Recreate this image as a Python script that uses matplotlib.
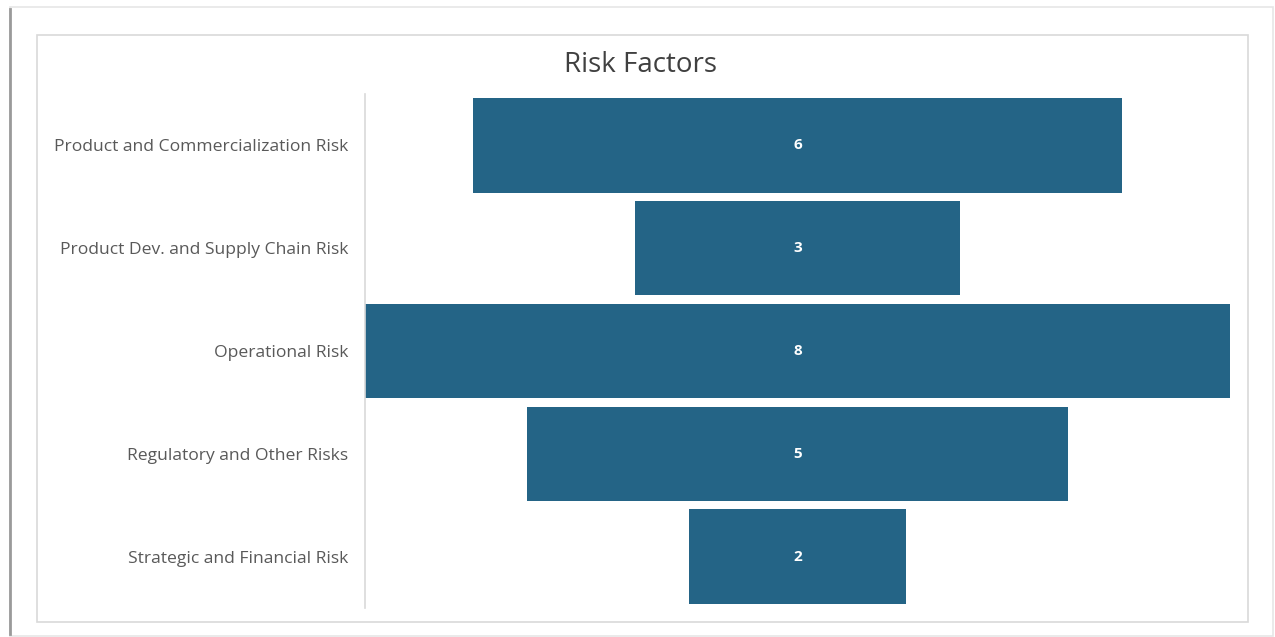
import matplotlib.pyplot as plt
from matplotlib.patches import Rectangle

# Risk categories (top to bottom) and their counts
categories = [
    "Product and Commercialization Risk",
    "Product Dev. and Supply Chain Risk",
    "Operational Risk",
    "Regulatory and Other Risks",
    "Strategic and Financial Risk",
]
counts = [6, 3, 8, 5, 2]

W, H = 1275, 637
fig = plt.figure(figsize=(W / 100, H / 100), dpi=100)
fig.patch.set_facecolor("white")

def px_box(x0, y0, x1, y1):
    # pixel box (top-left origin) -> figure fraction rect
    return [x0 / W, 1 - y1 / H, (x1 - x0) / W, (y1 - y0) / H]

# outer card with a soft shadow on the left edge
fig.add_artist(Rectangle((10 / W, 1 - 636 / H), 1263 / W, 629 / H,
                         transform=fig.transFigure, fill=False,
                         edgecolor="#e6e6e6", linewidth=1.2))
fig.add_artist(plt.Line2D([10 / W, 10 / W], [1 - 634 / H, 1 - 9 / H],
                          transform=fig.transFigure, color="#9a9a9a", linewidth=2))
# chart area border
fig.add_artist(Rectangle((37 / W, 1 - 622 / H), 1211 / W, 587 / H,
                         transform=fig.transFigure, fill=False,
                         edgecolor="#d9d9d9", linewidth=1.2))

ax = fig.add_axes(px_box(365, 94, 1230, 608))
ypos = list(range(len(categories)))
lefts = [-c / 2 for c in counts]
bars = ax.barh(ypos, counts, left=lefts, height=0.92, color="#246486")

for y, c in zip(ypos, counts):
    ax.text(0, y, str(c), ha="center", va="center", color="white",
            fontsize=11, fontweight="bold", family="Open Sans")

ax.set_xlim(-4, 4)
ax.set_ylim(len(categories) - 0.5, -0.5)
ax.set_yticks(ypos)
ax.set_yticklabels(categories, fontsize=12.6, color="#595959", family="Open Sans")
ax.tick_params(axis="y", length=0, pad=12)
ax.set_xticks([])
for side in ["top", "right", "bottom"]:
    ax.spines[side].set_visible(False)
ax.spines["left"].set_color("#d9d9d9")
ax.spines["left"].set_linewidth(1.2)

fig.text(640 / W, 1 - 65 / H, "Risk Factors", ha="center", va="center",
         fontsize=20, color="#404040", family="Open Sans")

fig.savefig("out.png", dpi=100)
